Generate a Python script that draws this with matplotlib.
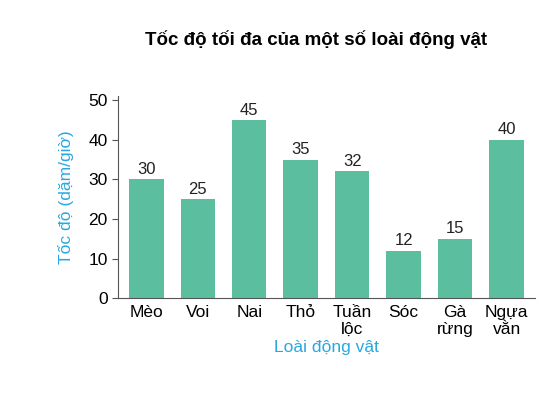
import matplotlib.pyplot as plt

plt.rcParams['font.family'] = ['Liberation Sans', 'DejaVu Sans']

animals = ['Mèo', 'Voi', 'Nai', 'Thỏ', 'Tuần\nlộc', 'Sóc', 'Gà\nrừng', 'Ngựa\nvằn']
speeds = [30, 25, 45, 35, 32, 12, 15, 40]

fig = plt.figure(figsize=(5.59, 4.09), dpi=100)
ax = fig.add_axes([0.211, 0.271, 0.746, 0.494])

x = range(len(animals))
bars = ax.bar(x, speeds, width=0.67, color='#5bbf9f')
for xi, v in zip(x, speeds):
    ax.text(xi, v + 0.6, str(v), ha='center', va='bottom', fontsize=12, color='#222222')

ax.set_xlim(-0.55, 7.55)
ax.set_ylim(0, 51)
ax.set_yticks(range(0, 51, 10))
ax.set_xticks(list(x))
ax.set_xticklabels(animals, fontsize=12.5, va='top', linespacing=1.15)
ax.tick_params(axis='x', length=0, pad=5)
ax.tick_params(axis='y', labelsize=12.5, length=4, color='#555555')
for s in ['top', 'right']:
    ax.spines[s].set_visible(False)
for s in ['left', 'bottom']:
    ax.spines[s].set_color('#555555')

ax.set_ylabel('Tốc độ (dặm/giờ)', color='#29a8e0', fontsize=12.5, labelpad=10)
ax.set_xlabel('Loài động vật', color='#29a8e0', fontsize=12.5, labelpad=2)
fig.text(0.565, 0.89, 'Tốc độ tối đa của một số loài động vật', ha='center',
         fontsize=13.5, fontweight='bold')

fig.savefig('out.png', dpi=100)
